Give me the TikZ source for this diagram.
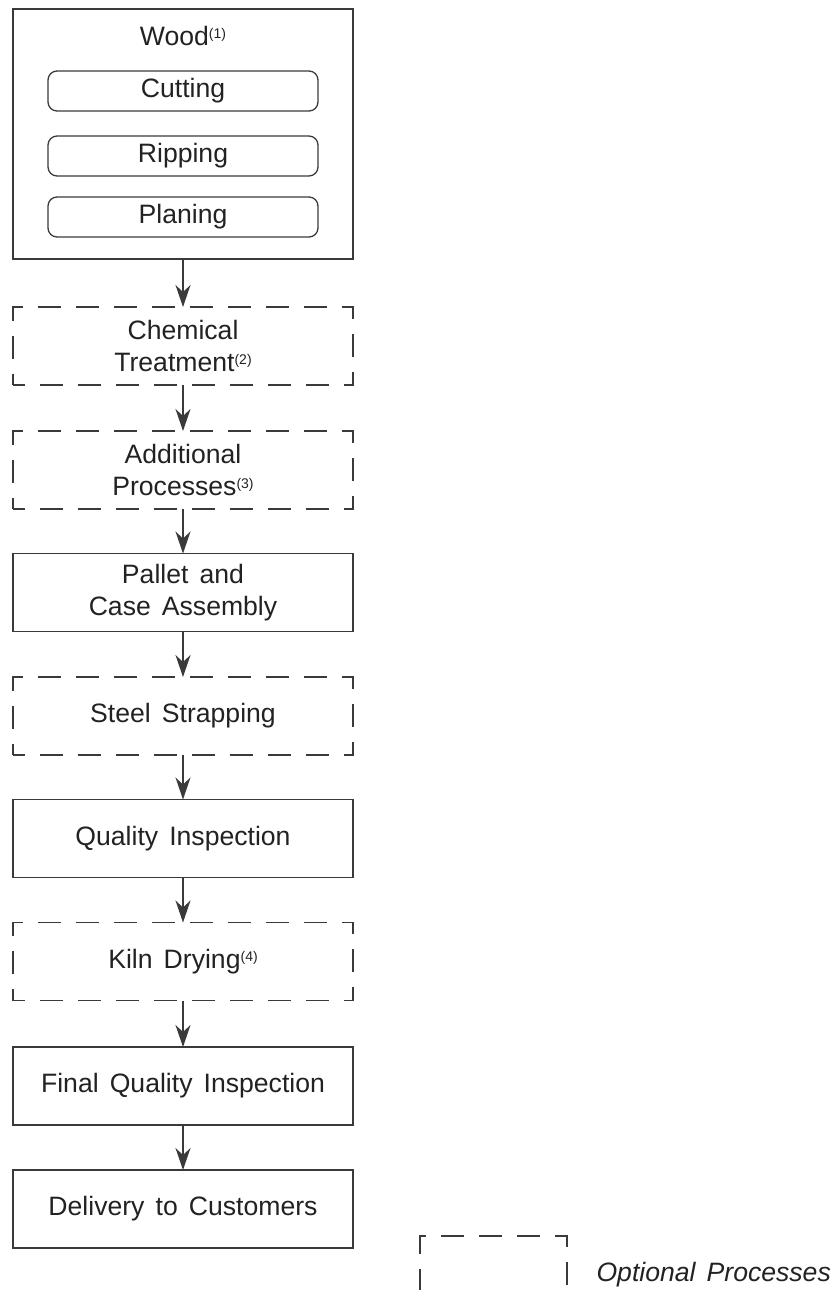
\documentclass[tikz,border=0pt]{standalone}
\usepackage{fontspec}
\setmainfont{Liberation Sans}[WordSpace=1.5]
\usetikzlibrary{arrows.meta}

\definecolor{linegray}{HTML}{3A3A3A}
\definecolor{txtgray}{HTML}{222222}
\newcommand{\fnref}[1]{\raisebox{7pt}{\fontsize{14}{14}\selectfont(#1)}}

\tikzset{
  stage/.style={draw=linegray, line width=1.3pt, minimum width=340pt, minimum height=78pt,
    inner sep=0pt, outer sep=0pt, align=center, text=txtgray, font=\fontsize{26.6}{32}\selectfont},
  optstage/.style={stage, dash pattern=on 23pt off 15pt, dash phase=11.5pt},
  substep/.style={stage, rounded corners=9pt, minimum width=270pt, minimum height=40pt},
  flow/.style={draw=linegray, line width=1.3pt, -{Stealth[length=22pt,width=15pt,inset=7pt]}}
}

\begin{document}
\begin{tikzpicture}[x=1pt,y=-1pt]
\useasboundingbox (0,0) rectangle (835,1290);

% wood and its first steps
\node[stage, minimum height=250pt] (wood) at (183,134) {};
\node[text=txtgray, font=\fontsize{26.6}{32}\selectfont] (woodlbl) at (183,36) {Wood\fnref{1}};
\node[substep] (cut) at (183,91) {Cutting};
\node[substep] (rip) at (183,156) {Ripping};
\node[substep] (plan) at (183,217) {Planing};

\node[optstage] (chem) at (183,346) {Chemical\\Treatment\fnref{2}};
\node[optstage] (addl) at (183,470) {Additional\\Processes\fnref{3}};
\node[stage] (pallet) at (183,592.5) {Pallet and\\Case Assembly};
\node[optstage] (steel) at (183,716) {Steel Strapping};
\node[stage] (qual) at (183,838.5) {Quality Inspection};
\node[optstage] (kiln) at (183,961.5) {Kiln Drying\fnref{4}};
\node[stage] (final) at (183,1086) {Final Quality Inspection};
\node[stage] (deliv) at (183,1209) {Delivery to Customers};

\draw[flow] (wood.south) -- (chem.north);
\draw[flow] (chem.south) -- (addl.north);
\draw[flow] (addl.south) -- (pallet.north);
\draw[flow] (pallet.south) -- (steel.north);
\draw[flow] (steel.south) -- (qual.north);
\draw[flow] (qual.south) -- (kiln.north);
\draw[flow] (kiln.south) -- (final.north);
\draw[flow] (final.south) -- (deliv.north);

% legend
\node[optstage, minimum width=147pt, minimum height=80pt, anchor=north west] (legbox) at (420,1236) {};
\node[anchor=west, text=txtgray, font=\fontsize{26.6}{32}\selectfont\itshape] (legtxt) at (593,1275) {Optional Processes};
\end{tikzpicture}
\end{document}
